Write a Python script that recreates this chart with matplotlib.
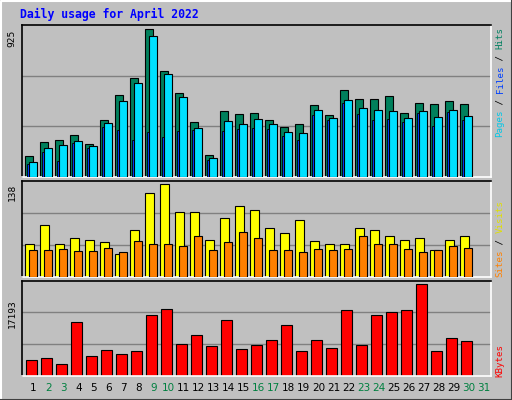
import matplotlib
matplotlib.use("Agg")
import matplotlib.pyplot as plt
from matplotlib.lines import Line2D
import numpy as np

days = list(range(1, 32))
hits = [130, 218, 230, 262, 205, 356, 513, 619, 925, 663, 525, 343, 136, 412, 393,
        400, 356, 312, 331, 450, 387, 544, 488, 488, 506, 400, 463, 456, 475, 456]
files = [92, 180, 199, 224, 193, 337, 475, 588, 883, 645, 500, 306, 117, 350, 331,
         362, 331, 280, 274, 419, 368, 481, 431, 419, 412, 368, 412, 375, 419, 381]
pages = [80, 155, 98, 211, 180, 312, 293, 230, 280, 249, 287, 293, 105, 287, 299,
         306, 299, 255, 230, 387, 356, 463, 393, 356, 362, 343, 400, 318, 406, 356]
visits = [49, 77, 49, 58, 55, 52, 34, 69, 125, 138, 96, 96, 55, 87, 105,
          99, 72, 65, 84, 53, 49, 49, 72, 69, 61, 55, 58, 40, 55, 61]
sites = [40, 40, 41, 38, 38, 43, 37, 53, 49, 49, 46, 61, 40, 52, 67,
         58, 40, 40, 37, 41, 40, 41, 61, 49, 49, 41, 37, 40, 46, 43]
kbytes = [4321, 4873, 3218, 14802, 5424, 7079, 5976, 6804, 16733, 18388, 8734, 11217, 8183, 15354, 7355,
          8458, 9838, 13975, 6804, 9838, 7631, 18112, 8458, 16733, 17561, 18112, 25192, 6804, 10389, 9562]
weekend = [2, 3, 9, 10, 16, 17, 23, 24, 30, 31]
kb_label = 17193

BG = "#C0C0C0"
W, H = 512, 400
fig = plt.figure(figsize=(5.12, 4.0), dpi=100, facecolor=BG)

def axes_px(x0, y0, x1, y1):
    return fig.add_axes([x0 / W, 1 - y1 / H, (x1 - x0) / W, (y1 - y0) / H])

x = np.arange(1, len(hits) + 1)
XL = (0.247, 31.5)

def style(ax, top):
    ax.set_facecolor(BG)
    ax.set_xlim(*XL)
    ax.set_ylim(0, top)
    for v in (top / 3, 2 * top / 3):
        ax.axhline(v, color="#808080", lw=1, zorder=0)
    ax.set_xticks([]); ax.set_yticks([])
    for s in ax.spines.values():
        s.set_linewidth(1.2)
    ax.spines["top"].set_color("black"); ax.spines["left"].set_color("black")
    ax.spines["bottom"].set_color("white"); ax.spines["right"].set_color("white")

ax1 = axes_px(22, 25, 491, 177)
style(ax1, 952)
ax1.bar(x - 0.553, hits, width=0.513, align="edge", color="#00805C", edgecolor="black", lw=0.8, zorder=2)
ax1.bar(x - 0.42, pages, width=0.13, align="edge", color="#0040FF", edgecolor="black", lw=0.6, zorder=3)
ax1.bar(x - 0.287, files, width=0.513, align="edge", color="#00E0FF", edgecolor="black", lw=0.8, zorder=4)

ax2 = axes_px(22, 180.5, 491, 277)
style(ax2, 143)
ax2.bar(x - 0.553, visits, width=0.6, align="edge", color="#FFFF00", edgecolor="black", lw=0.8, zorder=2)
ax2.bar(x - 0.287, sites, width=0.513, align="edge", color="#FF8000", edgecolor="black", lw=0.8, zorder=3)

ax3 = axes_px(22, 280.5, 491, 376)
style(ax3, 26200)
ax3.bar(x - 0.487, kbytes, width=0.733, align="edge", color="#FF0000", edgecolor="black", lw=0.8, zorder=2)

mono = "DejaVu Sans Mono"
ax1.text(-0.012, max(hits), str(max(hits)), transform=ax1.get_yaxis_transform(), rotation=90,
         ha="right", va="top", fontsize=6.8, family=mono)
ax2.text(-0.012, max(visits), str(max(visits)), transform=ax2.get_yaxis_transform(), rotation=90,
         ha="right", va="top", fontsize=6.8, family=mono)
ax3.text(-0.012, kb_label, str(kb_label), transform=ax3.get_yaxis_transform(), rotation=90,
         ha="right", va="center", fontsize=6.8, family=mono)

# day labels
for d in days:
    ax3.text(d, -0.13, str(d), transform=ax3.get_xaxis_transform(), ha="center", va="center",
             fontsize=7.5, color="#008040" if d in weekend else "black")

fig.text(20 / W, 1 - 14 / H, "Daily usage for April 2022", color="#0000FF", fontsize=8.3,
         fontweight="bold", family=mono, ha="left", va="center")

def vstack(parts, xpx, ybottom, cw=5.5):
    y = ybottom
    for t, c in parts:
        fig.text(xpx / W, 1 - y / H, t, color=c, rotation=90, fontsize=6.6, family=mono,
                 ha="center", va="bottom")
        y -= cw * len(t)

vstack([("Pages", "#00C8E8"), (" / ", "black"), ("Files", "#0040FF"), (" / ", "black"), ("Hits", "#008060")], 500, 137)
vstack([("Sites", "#FF8000"), (" / ", "black"), ("Visits", "#E0E000")], 500, 277)
vstack([("KBytes", "#FF0000")], 500, 377)

# outer 3D border
fig.add_artist(Line2D([0.5/W, 0.5/W, 1 - 0.5/W], [0.5/H, 1 - 0.5/H, 1 - 0.5/H], color="white", lw=1.5, transform=fig.transFigure))
fig.add_artist(Line2D([0.5/W, 1 - 0.5/W, 1 - 0.5/W], [0.5/H, 0.5/H, 1 - 0.5/H], color="#404040", lw=1.5, transform=fig.transFigure))

fig.savefig("out.png", dpi=100, facecolor=BG)
